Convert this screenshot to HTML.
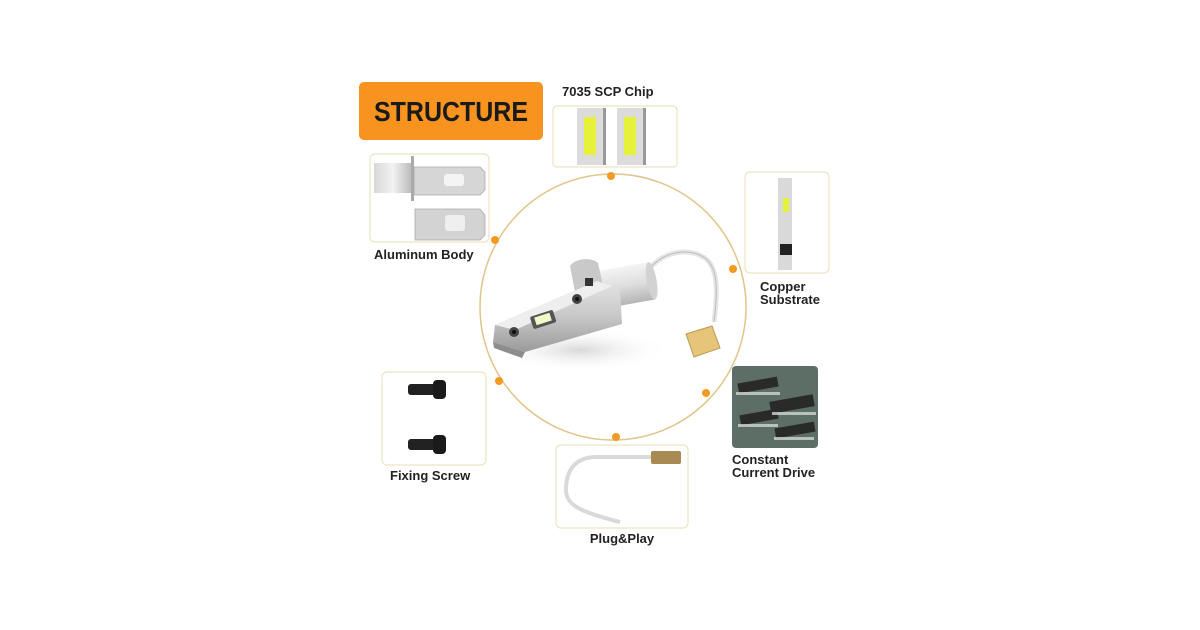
<!DOCTYPE html>
<html><head><meta charset="utf-8"><style>
html,body{margin:0;padding:0;background:#fff;}
svg{display:block}
text{font-family:"Liberation Sans",sans-serif;fill:#222;}
</style></head><body>
<svg width="1200" height="630" viewBox="0 0 1200 630" xmlns="http://www.w3.org/2000/svg">
<defs>
<linearGradient id="metal" x1="0" y1="0" x2="0" y2="1">
<stop offset="0" stop-color="#e4e4e4"/><stop offset="0.5" stop-color="#c8c8c8"/><stop offset="1" stop-color="#9a9a9a"/></linearGradient>
<linearGradient id="cyl" x1="0" y1="0" x2="0" y2="1">
<stop offset="0" stop-color="#f4f4f4"/><stop offset="0.5" stop-color="#dedede"/><stop offset="1" stop-color="#b5b5b5"/></linearGradient>
<linearGradient id="cylh" x1="0" y1="0" x2="1" y2="0">
<stop offset="0" stop-color="#d8d8d8"/><stop offset="0.5" stop-color="#f2f2f2"/><stop offset="1" stop-color="#b9b9b9"/></linearGradient>
<radialGradient id="shadow" cx="0.5" cy="0.5" r="0.5">
<stop offset="0" stop-color="#d8d8d8"/><stop offset="1" stop-color="#fff" stop-opacity="0"/></radialGradient>
</defs>
<rect width="1200" height="630" fill="#fff"/>

<rect x="359" y="82" width="184" height="58" rx="5" fill="#f7931e"/>
<text x="374" y="121" font-size="28" font-weight="bold" textLength="154" lengthAdjust="spacingAndGlyphs" style="fill:#1a1a1a">STRUCTURE</text>

<circle cx="613" cy="307" r="133" fill="none" stroke="#e3c48a" stroke-width="1.5"/>
<g fill="#f39a24">
<circle cx="611" cy="176" r="4"/><circle cx="495" cy="240" r="4"/><circle cx="733" cy="269" r="4"/>
<circle cx="499" cy="381" r="4"/><circle cx="706" cy="393" r="4"/><circle cx="616" cy="437" r="4"/>
</g>

<!-- bulb -->
<ellipse cx="580" cy="350" rx="90" ry="22" fill="url(#shadow)"/>
<path d="M650 268 C666 250 690 248 705 258 C718 268 718 290 714 322" fill="none" stroke="#e6e6e6" stroke-width="5"/>
<path d="M650 268 C666 250 690 248 705 258 C718 268 718 290 714 322" fill="none" stroke="#bbb" stroke-width="1"/>
<polygon points="686,334 712,326 720,348 694,357" fill="#e6c57a" stroke="#b89a50" stroke-width="1"/>
<g transform="rotate(-10 628 285)">
<rect x="602" y="266" width="50" height="38" fill="url(#cyl)"/>
<ellipse cx="652" cy="285" rx="5" ry="19" fill="#d2d2d2"/>
</g>
<path d="M570 266 C575 258 592 257 598 263 L604 290 L575 292 Z" fill="#c9c9c9"/>
<polygon points="495,325 597,281 620,290 622,324 525,352 493,342" fill="url(#metal)"/>
<polygon points="495,325 597,281 612,286 515,330" fill="#eeeeee"/>
<polygon points="493,342 525,352 522,358 494,348" fill="#8d8d8d"/>
<rect x="531" y="313" width="24" height="13" rx="2" fill="#555" transform="rotate(-18 543 319)"/>
<rect x="535" y="315" width="16" height="8" fill="#f4f7c8" transform="rotate(-18 543 319)"/>
<circle cx="514" cy="332" r="5" fill="#444"/><circle cx="514" cy="332" r="2" fill="#111"/>
<circle cx="577" cy="299" r="5" fill="#444"/><circle cx="577" cy="299" r="2" fill="#111"/>
<rect x="585" y="278" width="8" height="8" fill="#333"/>

<text x="562" y="96" font-size="13" font-weight="bold">7035 SCP Chip</text>
<rect x="553" y="106" width="124" height="61" rx="4" fill="#fff" stroke="#efe3c3" stroke-width="1.2"/>
<rect x="577" y="108" width="28" height="57" fill="#dcdcdc"/><rect x="603" y="108" width="3" height="57" fill="#999"/>
<rect x="617" y="108" width="28" height="57" fill="#dcdcdc"/><rect x="643" y="108" width="3" height="57" fill="#999"/>
<rect x="584" y="117" width="12" height="38" fill="#e6f23a"/>
<rect x="624" y="117" width="12" height="38" fill="#e6f23a"/>

<rect x="370" y="154" width="119" height="88" rx="5" fill="#fff" stroke="#efe3c3" stroke-width="1.2"/>
<rect x="374" y="163" width="38" height="30" fill="url(#cylh)"/>
<rect x="411" y="156" width="3" height="45" fill="#aaa"/>
<polygon points="414,167 480,167 485,172 485,190 480,195 414,195" fill="#d6d6d6" stroke="#aaa" stroke-width="0.8"/>
<rect x="444" y="174" width="20" height="12" rx="3" fill="#f4f4f4"/>
<polygon points="415,209 480,209 485,215 485,235 480,240 415,240" fill="#d3d3d3" stroke="#aaa" stroke-width="0.8"/>
<rect x="445" y="215" width="20" height="16" rx="3" fill="#efefef"/>
<text x="374" y="259" font-size="13" font-weight="bold">Aluminum Body</text>

<rect x="745" y="172" width="84" height="101" rx="5" fill="#fff" stroke="#efe3c3" stroke-width="1.2"/>
<rect x="778" y="178" width="14" height="92" fill="#d9d9d9"/>
<rect x="783" y="198" width="6" height="14" fill="#e6f23a"/>
<rect x="780" y="244" width="12" height="11" fill="#222"/>
<text x="760" y="291" font-size="13" font-weight="bold">Copper</text>
<text x="760" y="304" font-size="13" font-weight="bold">Substrate</text>

<rect x="382" y="372" width="104" height="93" rx="5" fill="#fff" stroke="#efe3c3" stroke-width="1.2"/>
<rect x="408" y="384" width="30" height="11" rx="3" fill="#222"/><rect x="433" y="380" width="13" height="19" rx="4" fill="#1a1a1a"/>
<rect x="408" y="439" width="30" height="11" rx="3" fill="#222"/><rect x="433" y="435" width="13" height="19" rx="4" fill="#1a1a1a"/>
<text x="390" y="480" font-size="13" font-weight="bold">Fixing Screw</text>

<rect x="732" y="366" width="86" height="82" rx="4" fill="#5c6e66"/>
<g fill="#2a2a2a">
<rect x="738" y="380" width="40" height="10" transform="rotate(-10 758 385)"/>
<rect x="770" y="398" width="44" height="12" transform="rotate(-10 792 404)"/>
<rect x="740" y="412" width="38" height="10" transform="rotate(-10 759 417)"/>
<rect x="775" y="425" width="40" height="10" transform="rotate(-10 795 430)"/>
</g>
<g fill="#cfd6d2" opacity="0.8">
<rect x="736" y="392" width="44" height="3"/><rect x="772" y="412" width="44" height="3"/>
<rect x="738" y="424" width="40" height="3"/><rect x="774" y="437" width="40" height="3"/>
</g>
<text x="732" y="464" font-size="13" font-weight="bold">Constant</text>
<text x="732" y="477" font-size="13" font-weight="bold">Current Drive</text>

<rect x="556" y="445" width="132" height="83" rx="5" fill="#fff" stroke="#efe3c3" stroke-width="1.2"/>
<path d="M652 457 L595 457 C575 458 566 470 566 490 C566 505 580 512 620 522" fill="none" stroke="#d9d9d9" stroke-width="4"/>
<rect x="651" y="451" width="30" height="13" rx="2" fill="#a88a52"/>
<text x="622" y="543" text-anchor="middle" font-size="13" font-weight="bold">Plug&amp;Play</text>
</svg>
</body></html>
